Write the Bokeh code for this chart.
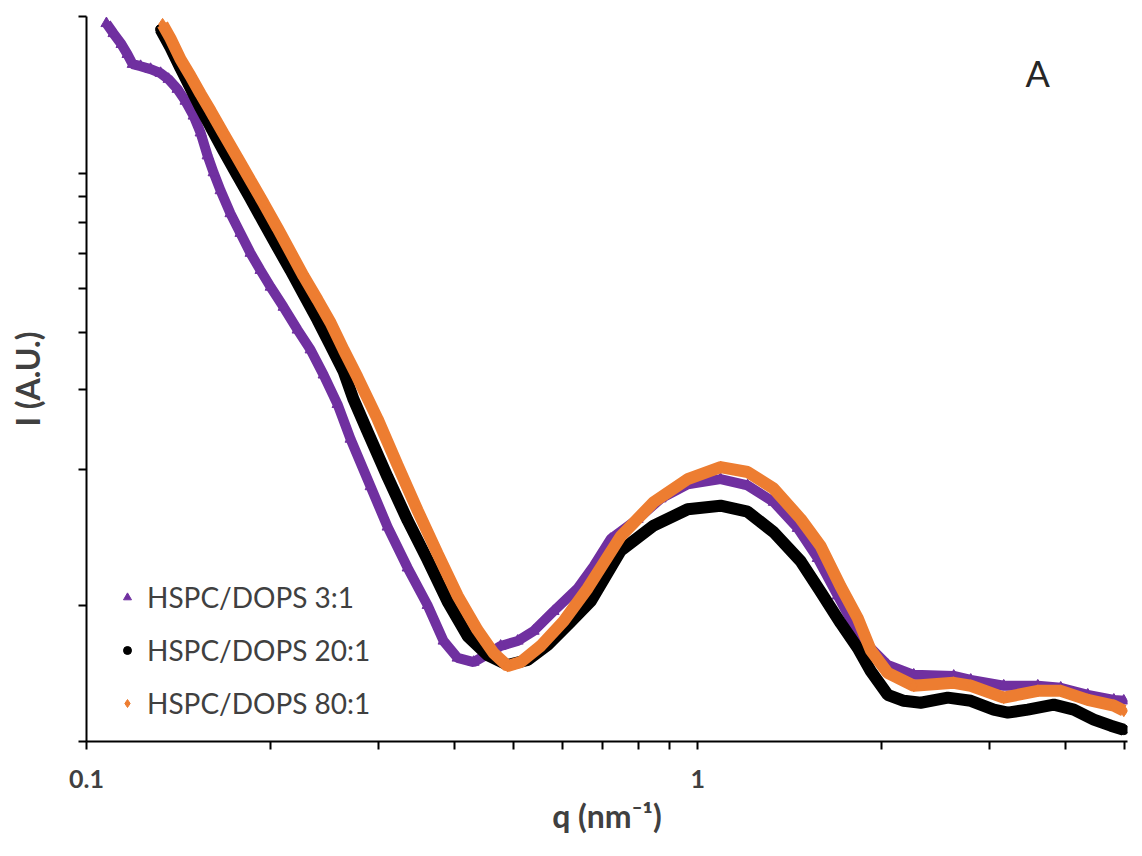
from bokeh.plotting import figure
from bokeh.models import Range1d, FixedTicker, CustomJSTickFormatter, Legend, LegendItem, Label
from bokeh.embed import file_html
from bokeh.resources import INLINE

# ---- data (q in nm^-1, intensity in arbitrary units) ----
q_3_1 = [0.1078, 0.1107, 0.1141, 0.1167, 0.1190, 0.1226, 0.1273, 0.1322, 0.1362, 0.1409,
         0.1452, 0.1497, 0.1537, 0.1578, 0.1614, 0.1657, 0.1720, 0.1786, 0.1855, 0.1926,
         0.2001, 0.2101, 0.2215, 0.2326, 0.2443, 0.2575, 0.2704, 0.2916, 0.3109, 0.3353,
         0.3615, 0.3839, 0.4047, 0.4299, 0.4532, 0.4760, 0.5075, 0.5391, 0.5811, 0.6361,
         0.6758, 0.7204, 0.7976, 0.8698, 0.963, 1.090, 1.207, 1.332, 1.458, 1.572,
         1.695, 1.800, 1.919, 2.046, 2.257, 2.624, 2.798, 3.168, 3.602, 3.927,
         4.348, 4.797, 4.980]
i_3_1 = [19.31, 18.35, 17.36, 16.50, 15.69, 15.53, 15.30, 14.99, 14.54, 13.82,
         13.01, 12.06, 11.07, 9.85, 9.04, 8.25, 7.34, 6.64, 6.00, 5.50,
         5.05, 4.56, 4.06, 3.67, 3.23, 2.78, 2.33, 1.83, 1.49, 1.21,
         1.00, 0.834, 0.765, 0.749, 0.780, 0.813, 0.834, 0.877, 0.970, 1.09,
         1.22, 1.40, 1.55, 1.72, 1.85, 1.90, 1.84, 1.69, 1.48, 1.27,
         1.05, 0.904, 0.804, 0.738, 0.702, 0.698, 0.684, 0.664, 0.664, 0.657,
         0.634, 0.618, 0.615]

q_20_1 = [0.1322, 0.1372, 0.1425, 0.1480, 0.1537, 0.1596, 0.1676, 0.1766, 0.1855, 0.1949,
          0.2054, 0.2157, 0.2265, 0.2388, 0.2508, 0.2634, 0.2735, 0.2883, 0.3109, 0.3353,
          0.3615, 0.3897, 0.4203, 0.4532, 0.4887, 0.5270, 0.5682, 0.6125, 0.6682, 0.7482,
          0.8472, 0.963, 1.090, 1.207, 1.332, 1.475, 1.590, 1.714, 1.828, 1.919,
          2.046, 2.174, 2.317, 2.566, 2.798, 3.051, 3.217, 3.468, 3.825, 4.125,
          4.448, 4.742, 4.980]
i_20_1 = [18.73, 17.10, 15.38, 13.90, 12.56, 11.41, 10.10, 8.90, 7.92, 7.02,
          6.18, 5.50, 4.87, 4.27, 3.75, 3.29, 2.85, 2.42, 1.92, 1.54,
          1.26, 1.02, 0.855, 0.776, 0.738, 0.757, 0.817, 0.904, 1.02, 1.32,
          1.50, 1.63, 1.66, 1.61, 1.45, 1.25, 1.07, 0.913, 0.804, 0.716,
          0.634, 0.615, 0.609, 0.625, 0.615, 0.588, 0.579, 0.588, 0.603, 0.588,
          0.559, 0.542, 0.531]

q_80_1 = [0.1332, 0.1372, 0.1425, 0.1480, 0.1537, 0.1596, 0.1676, 0.1766, 0.1855, 0.1949,
          0.2054, 0.2157, 0.2265, 0.2388, 0.2508, 0.2634, 0.2776, 0.2994, 0.3228, 0.3481,
          0.3754, 0.4047, 0.4364, 0.4636, 0.4887, 0.5133, 0.5534, 0.6034, 0.6607, 0.7482,
          0.8472, 0.963, 1.090, 1.207, 1.332, 1.475, 1.590, 1.714, 1.828, 1.919,
          2.046, 2.257, 2.624, 2.798, 3.168, 3.602, 3.927, 4.348, 4.797, 4.980]
i_80_1 = [19.21, 17.89, 16.09, 14.77, 13.48, 12.37, 11.01, 9.75, 8.68, 7.73,
          6.81, 6.03, 5.34, 4.73, 4.21, 3.67, 3.19, 2.58, 2.04, 1.62,
          1.30, 1.05, 0.881, 0.784, 0.734, 0.749, 0.813, 0.922, 1.09, 1.42,
          1.69, 1.90, 2.02, 1.97, 1.81, 1.55, 1.35, 1.10, 0.936, 0.796,
          0.709, 0.664, 0.674, 0.664, 0.625, 0.647, 0.647, 0.618, 0.600, 0.585]

series_labels = ["HSPC/DOPS 3:1", "HSPC/DOPS 20:1", "HSPC/DOPS 80:1"]
x_major_ticks = [0.1, 1]
x_minor_ticks = [0.2, 0.3, 0.4, 0.5, 0.6, 0.7, 0.8, 0.9, 2, 3, 4, 5]
y_ticks = [0.5, 1, 2, 3, 4, 5, 6, 7, 8, 9, 20]
panel_tag = "A"

PURPLE = "#7030A0"
ORANGE = "#ED7D31"
BLACK = "#000000"
TEXT = "#404040"
FONT = "Lato"

p = figure(width=1142, height=856, x_axis_type="log", y_axis_type="log",
           x_range=Range1d(0.1, 5.05), y_range=Range1d(0.5, 20),
           output_backend="svg", toolbar_location=None,
           min_border_left=86, min_border_right=15, min_border_top=16, min_border_bottom=115)
p.outline_line_color = None
p.xgrid.visible = False
p.ygrid.visible = False
p.background_fill_color = "white"
p.border_fill_color = "white"

# series (dense bands drawn as thick lines plus markers)
p.line(q_3_1, i_3_1, line_width=10, color=PURPLE)
s1 = p.scatter(q_3_1, i_3_1, marker="triangle", size=11, color=PURPLE)
p.line(q_20_1, i_20_1, line_width=12, color=BLACK)
s2 = p.scatter(q_20_1, i_20_1, marker="circle", size=10, color=BLACK)
p.line(q_80_1, i_80_1, line_width=12, color=ORANGE)
s3 = p.scatter(q_80_1, i_80_1, marker="diamond", size=12, color=ORANGE)

# axes
xa = p.xaxis[0]
xa.ticker = FixedTicker(ticks=x_major_ticks, minor_ticks=x_minor_ticks)
xa.formatter = CustomJSTickFormatter(code="return tick < 0.5 ? '0.1' : '1';")
xa.axis_label = "q (nm\u207b\u00b9)"
ya = p.yaxis[0]
ya.ticker = FixedTicker(ticks=y_ticks, minor_ticks=[])
ya.formatter = CustomJSTickFormatter(code="return '';")
ya.axis_label = "I (A.U.)"

for ax in (xa, ya):
    ax.axis_line_color = "black"
    ax.axis_line_width = 2
    ax.major_tick_line_color = "black"
    ax.major_tick_line_width = 2
    ax.minor_tick_line_color = "black"
    ax.minor_tick_line_width = 2
    ax.major_tick_in = 0
    ax.major_tick_out = 8
    ax.minor_tick_in = 0
    ax.minor_tick_out = 8
    ax.axis_label_text_font = FONT
    ax.axis_label_text_font_style = "bold"
    ax.axis_label_text_color = TEXT
    ax.axis_label_text_font_size = "32px"
    ax.major_label_text_font = FONT
    ax.major_label_text_font_style = "bold"
    ax.major_label_text_color = TEXT
    ax.major_label_text_font_size = "25px"

xa.major_label_standoff = 20
xa.axis_label_standoff = 5
ya.major_label_standoff = 0
ya.axis_label_standoff = 32

legend = Legend(items=[LegendItem(label=series_labels[0], renderers=[s1]),
                       LegendItem(label=series_labels[1], renderers=[s2]),
                       LegendItem(label=series_labels[2], renderers=[s3])],
                location=(31, 21))
legend.background_fill_alpha = 0
legend.border_line_color = None
legend.label_text_font = FONT
legend.label_text_font_size = "28px"
legend.label_text_color = TEXT
legend.glyph_width = 20
legend.glyph_height = 20
legend.label_standoff = 10
legend.spacing = 19
legend.padding = 0
legend.margin = 0
p.add_layout(legend, "center")

tag = Label(x=3.6, y=15.0, text=panel_tag, text_font=FONT, text_font_size="36px",
            text_color="#262626", text_align="center", text_baseline="middle")
p.add_layout(tag)

open("out.html", "w").write(file_html(p, INLINE))
